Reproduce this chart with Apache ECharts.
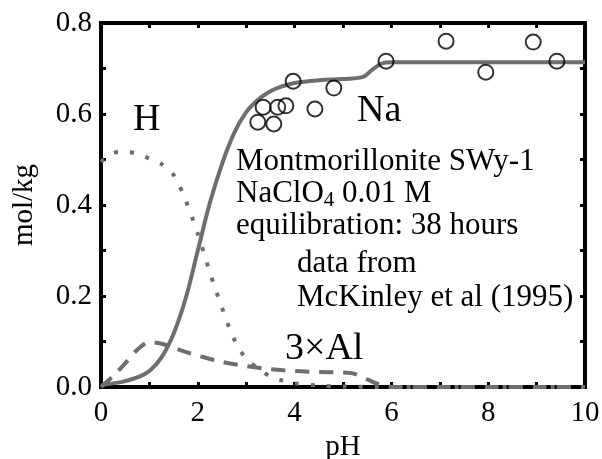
<!DOCTYPE html>
<html>
<head>
<meta charset="utf-8">
<script src="https://cdn.jsdelivr.net/npm/echarts@6/dist/echarts.min.js"></script>
<style>
  html, body { margin: 0; padding: 0; background: #fff; }
  #chart { width: 602px; height: 459px; }
</style>
</head>
<body>
<div id="chart"></div>
<script>
// Sorbed cation amounts vs pH for Na-montmorillonite (model curves + measured Na)
const naCurve = [
  [0, 0.004], [0.25, 0.008], [0.5, 0.013], [0.75, 0.021], [1.0, 0.035],
  [1.25, 0.065], [1.5, 0.117], [1.75, 0.195], [2.0, 0.300], [2.25, 0.405],
  [2.5, 0.490], [2.75, 0.558], [3.0, 0.604], [3.25, 0.632], [3.5, 0.650],
  [3.75, 0.661], [4.0, 0.668], [4.5, 0.674], [5.0, 0.677], [5.4, 0.681],
  [5.6, 0.697], [5.8, 0.711], [6.0, 0.714], [7.0, 0.714], [8.0, 0.714],
  [9.0, 0.714], [10, 0.714]
];
const hCurve = [
  [0, 0.495], [0.25, 0.514], [0.5, 0.518], [0.75, 0.512], [1.0, 0.502],
  [1.25, 0.490], [1.5, 0.466], [1.75, 0.410], [2.0, 0.337], [2.25, 0.252],
  [2.5, 0.174], [2.75, 0.105], [3.0, 0.062], [3.25, 0.041], [3.5, 0.023],
  [3.75, 0.014], [4.0, 0.008], [4.5, 0.003], [5.0, 0.001], [6.0, 0],
  [7.0, 0], [8.0, 0], [9.0, 0], [10, 0]
];
const alCurve = [
  [0, 0.0], [0.25, 0.024], [0.5, 0.052], [0.75, 0.082], [1.0, 0.099],
  [1.25, 0.095], [1.5, 0.086], [1.75, 0.077], [2.0, 0.069], [2.5, 0.055],
  [3.0, 0.046], [3.5, 0.039], [4.0, 0.035], [4.5, 0.033], [5.0, 0.032],
  [5.2, 0.030], [5.4, 0.022], [5.6, 0.012], [5.8, 0.004], [6.0, 0],
  [7.0, 0], [8.0, 0], [9.0, 0], [10, 0]
];
// McKinley et al (1995) measured Na
const naMeasured = [
  [3.24, 0.582], [3.35, 0.615], [3.57, 0.578], [3.65, 0.615], [3.82, 0.618],
  [3.97, 0.672], [4.42, 0.611], [4.81, 0.657], [5.89, 0.716], [7.13, 0.760],
  [7.95, 0.692], [8.93, 0.758], [9.42, 0.716]
];
const xTicks = [0, 2, 4, 6, 8, 10];
const yTicks = [0.0, 0.2, 0.4, 0.6, 0.8];

const FONT = '"Liberation Serif", "Times New Roman", Times, serif';
const GRAY = '#6e6e6e';

const chart = echarts.init(document.getElementById('chart'), null, { renderer: 'canvas' });

const axisLine = { show: true, onZero: false, lineStyle: { color: '#000', width: 4, cap: 'square' } };
const tick = { show: true, inside: true, length: 5, lineStyle: { color: '#000', width: 3 } };

chart.setOption({
  animation: false,
  backgroundColor: '#fff',
  grid: { left: 101, right: 17, top: 23, bottom: 72, containLabel: false, outerBoundsMode: 'none' },
  xAxis: [
    {
      type: 'value', min: 0, max: 10, interval: 1, position: 'bottom',
      name: 'pH', nameLocation: 'middle', nameGap: 41,
      nameTextStyle: { fontFamily: FONT, fontSize: 29, color: '#000' },
      axisLine, axisTick: tick, splitLine: { show: false },
      axisLabel: {
        fontFamily: FONT, fontSize: 29, color: '#000', margin: 12,
        formatter: v => xTicks.indexOf(v) >= 0 ? String(v) : ''
      }
    },
    {
      type: 'value', min: 0, max: 10, interval: 1, position: 'top',
      axisLine, axisTick: tick, splitLine: { show: false }, axisLabel: { show: false }
    }
  ],
  yAxis: [
    {
      type: 'value', min: 0, max: 0.8, interval: 0.1, position: 'left',
      name: 'mol/kg', nameLocation: 'middle', nameGap: 62, nameRotate: 90,
      nameTextStyle: { fontFamily: FONT, fontSize: 29, color: '#000' },
      axisLine, axisTick: tick, splitLine: { show: false },
      axisLabel: {
        fontFamily: FONT, fontSize: 29, color: '#000', margin: 9,
        formatter: v => {
          const r = Math.round(v * 10) / 10;
          return yTicks.some(t => Math.abs(t - r) < 1e-9) ? r.toFixed(1) : '';
        }
      }
    },
    {
      type: 'value', min: 0, max: 0.8, interval: 0.1, position: 'right',
      axisLine, axisTick: tick, splitLine: { show: false }, axisLabel: { show: false }
    }
  ],
  series: [
    {
      name: 'H', type: 'line', data: hCurve, smooth: 0.3, showSymbol: false, clip: false,
      lineStyle: { color: GRAY, width: 4, type: [4, 12], cap: 'butt' }, z: 3
    },
    {
      name: 'Al', type: 'line', data: alCurve, smooth: 0.3, showSymbol: false, clip: false,
      lineStyle: { color: GRAY, width: 4, type: [14, 10], cap: 'butt' }, z: 3
    },
    {
      name: 'Na', type: 'line', data: naCurve, smooth: 0.4, showSymbol: false, clip: false,
      lineStyle: { color: GRAY, width: 4 }, z: 4
    },
    {
      name: 'Na measured', type: 'scatter', data: naMeasured, symbol: 'circle', symbolSize: 15,
      itemStyle: { color: 'rgba(255,255,255,0)', borderColor: '#000', borderWidth: 2 }, z: 5
    }
  ],
  graphic: [
    { type: 'text', left: 133, top: 101, style: { text: 'H', fontFamily: FONT, fontSize: 38, fill: '#000' } },
    { type: 'text', left: 357, top: 92, style: { text: 'Na', fontFamily: FONT, fontSize: 38, fill: '#000' } },
    { type: 'text', left: 285, top: 330, style: { text: '3×Al', fontFamily: FONT, fontSize: 38, fill: '#000' } },
    { type: 'text', left: 236, top: 146, style: { text: 'Montmorillonite SWy-1', fontFamily: FONT, fontSize: 31, fill: '#000' } },
    {
      type: 'text', left: 236, top: 178,
      style: {
        text: '{a|NaClO}{s|4}{a| 0.01 M}',
        rich: {
          a: { fontFamily: FONT, fontSize: 31, fill: '#000' },
          s: { fontFamily: FONT, fontSize: 21, fill: '#000', padding: [14, 0, 0, 0] }
        }
      }
    },
    { type: 'text', left: 236, top: 210, style: { text: 'equilibration: 38 hours', fontFamily: FONT, fontSize: 31, fill: '#000' } },
    { type: 'text', left: 297, top: 248, style: { text: 'data from', fontFamily: FONT, fontSize: 31, fill: '#000' } },
    { type: 'text', left: 297, top: 282, style: { text: 'McKinley et al (1995)', fontFamily: FONT, fontSize: 31, fill: '#000' } }
  ]
});
</script>
</body>
</html>
